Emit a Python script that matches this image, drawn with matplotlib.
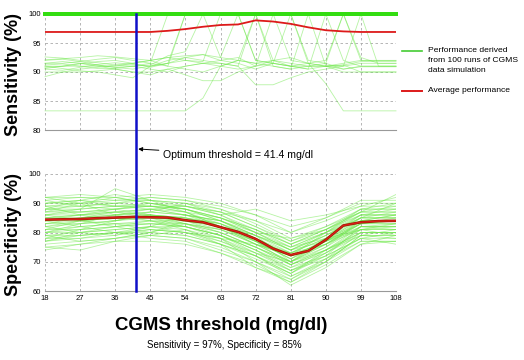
import matplotlib
matplotlib.use('Agg')
import matplotlib.pyplot as plt
from matplotlib.lines import Line2D
from matplotlib.transforms import blended_transform_factory

plt.rcParams['font.family'] = ['Liberation Sans', 'DejaVu Sans']

# thresholds (mg/dl)
x_fine = [18, 22.5, 27, 31.5, 36, 40.5, 45, 49.5, 54, 58.5, 63, 67.5,
          72, 76.5, 81, 85.5, 90, 94.5, 99, 103.5, 108]
x_coarse = [18, 27, 36, 45, 54, 63, 72, 81, 90, 99, 108]
x_ticks = [18, 27, 36, 45, 54, 63, 72, 81, 90, 99, 108]
optimum = 41.4

# sensitivity runs that stay at 100 the whole way
sens_full = [[100] * 21 for _ in range(6)]

# sensitivity runs (x_fine)
sens_runs = [
    [91.5, 91.5, 91.8, 92.2, 92.5, 92.0, 91.5, 100, 100, 100, 100, 100, 100, 100, 100, 100, 100, 100, 100, 100, 100],
    [90.8, 91.0, 91.5, 91.2, 90.8, 91.0, 91.5, 91.0, 100, 100, 100, 100, 100, 100, 100, 100, 100, 100, 100, 100, 100],
    [92.6, 92.4, 92.0, 91.6, 91.2, 91.5, 92.0, 92.5, 92.8, 93.0, 92.5, 100, 100, 100, 100, 100, 100, 100, 100, 100, 100],
    [91.0, 90.6, 90.2, 90.0, 89.5, 89.0, 91.0, 92.0, 92.5, 92.0, 91.5, 91.0, 100, 91.0, 90.5, 91.0, 91.0, 91.5, 92.0, 92.0, 92.0],
    [89.2, 90.0, 90.5, 90.8, 91.2, 91.0, 90.5, 90.0, 91.0, 91.5, 92.0, 92.5, 91.0, 100, 92.0, 91.5, 91.0, 90.5, 91.0, 91.0, 91.0],
    [90.6, 91.0, 91.4, 91.8, 92.0, 91.5, 90.8, 91.5, 92.5, 93.0, 92.0, 91.5, 90.5, 91.5, 100, 91.5, 91.0, 90.0, 90.0, 90.0, 90.0],
    [92.1, 92.3, 92.5, 92.8, 92.6, 92.3, 92.0, 91.0, 90.5, 90.0, 91.0, 92.0, 91.5, 91.0, 90.5, 100, 91.0, 91.2, 91.8, 91.8, 91.8],
    [91.5, 91.8, 91.5, 91.0, 90.5, 90.0, 90.0, 90.5, 89.5, 88.5, 88.5, 90.0, 91.0, 91.5, 91.0, 90.5, 100, 92.0, 91.0, 91.0, 91.0],
    [90.0, 90.0, 90.0, 90.2, 90.5, 90.0, 89.5, 90.5, 91.0, 91.5, 91.5, 91.0, 87.8, 87.8, 89.0, 90.0, 90.5, 91.0, 100, 91.0, 91.0],
    [83.3, 83.3, 83.3, 83.3, 83.3, 83.3, 83.3, 83.3, 83.3, 85.5, 91.0, 92.0, 91.5, 92.0, 91.0, 90.5, 91.0, 91.0, 91.5, 91.5, 91.5],
    [91.0, 91.0, 91.0, 91.0, 91.0, 91.5, 92.0, 92.5, 92.0, 91.5, 91.0, 90.5, 91.0, 92.0, 92.5, 91.5, 88.0, 83.3, 83.3, 83.3, 83.3],
    [90.5, 90.3, 90.8, 91.3, 91.6, 91.3, 91.0, 91.5, 92.0, 91.8, 100, 100, 92.0, 91.5, 91.0, 91.0, 91.0, 91.2, 90.0, 90.0, 90.0],
    [100, 100, 100, 100, 100, 100, 100, 100, 100, 100, 100, 100, 92.0, 91.5, 91.0, 91.5, 92.0, 100, 100, 100, 100],
    [100, 100, 100, 100, 100, 100, 100, 100, 100, 100, 100, 100, 100, 100, 100, 92.0, 91.5, 90.5, 90.9, 90.9, 90.9],
    [92.0, 92.2, 91.8, 91.2, 90.8, 90.5, 91.0, 91.5, 100, 100, 100, 100, 100, 100, 100, 100, 100, 100, 92.0, 92.0, 92.0],
    [91.2, 91.4, 91.0, 90.6, 90.6, 91.0, 91.2, 92.8, 93.5, 100, 92.5, 92.0, 100, 92.0, 91.5, 91.0, 91.5, 100, 92.5, 91.5, 91.5],
]

# specificity runs (x_coarse)
spec_runs = [
    [84, 85, 86, 87, 86, 83, 78, 72, 77, 83, 83],
    [88, 89, 90, 89, 87, 82, 76, 70, 76, 84, 84],
    [80, 81, 82, 83, 82, 79, 74, 68, 74, 80, 80],
    [90, 91, 90, 91, 90, 88, 84, 78, 82, 87, 87],
    [76, 77, 78, 80, 79, 76, 72, 66, 72, 78, 78],
    [86, 87, 88, 86, 84, 80, 75, 70, 78, 86, 86],
    [92, 92, 91, 92, 91, 89, 86, 82, 85, 90, 90],
    [78, 79, 80, 81, 80, 78, 73, 67, 73, 79, 79],
    [83, 84, 85, 85, 84, 81, 77, 73, 78, 83, 85],
    [85, 86, 87, 88, 87, 85, 80, 74, 79, 85, 85],
    [74, 76, 78, 79, 78, 75, 70, 64, 70, 77, 77],
    [89, 90, 92, 90, 88, 84, 79, 73, 79, 86, 88],
    [81, 82, 83, 84, 84, 82, 77, 71, 77, 82, 82],
    [87, 88, 89, 89, 88, 85, 81, 76, 81, 87, 89],
    [79, 80, 81, 82, 81, 77, 72, 65, 71, 80, 80],
    [91, 92, 92, 93, 92, 90, 86, 80, 84, 89, 92],
    [82, 83, 84, 85, 83, 80, 75, 69, 75, 82, 81],
    [85, 85, 86, 86, 85, 83, 79, 75, 80, 84, 84],
    [77, 78, 79, 81, 80, 77, 73, 68, 72, 78, 76],
    [88, 88, 89, 90, 88, 85, 80, 74, 80, 86, 86],
    [84, 86, 88, 89, 87, 83, 77, 71, 76, 83, 84],
    [80, 80, 81, 82, 80, 76, 71, 66, 73, 81, 82],
    [86, 88, 95, 91, 90, 87, 82, 77, 82, 88, 88],
    [75, 76, 77, 77, 76, 73, 69, 63, 69, 76, 77],
    [90, 90, 91, 91, 89, 86, 81, 76, 80, 85, 90],
    [83, 83, 84, 86, 85, 82, 78, 72, 77, 84, 84],
    [87, 87, 87, 88, 86, 82, 77, 71, 78, 85, 87],
    [78, 78, 80, 82, 82, 79, 74, 69, 74, 80, 80],
    [82, 84, 85, 84, 83, 81, 76, 72, 76, 81, 83],
    [89, 89, 90, 92, 91, 88, 83, 77, 81, 86, 86],
    [80, 82, 83, 83, 82, 79, 75, 70, 74, 79, 78],
    [86, 86, 86, 87, 86, 84, 79, 74, 79, 85, 85],
    [92, 93, 92, 90, 88, 85, 81, 75, 80, 87, 93],
    [77, 79, 80, 80, 79, 76, 72, 67, 71, 77, 77],
    [84, 84, 85, 86, 85, 82, 76, 70, 76, 83, 83],
    [88, 87, 88, 89, 89, 87, 82, 76, 81, 87, 87],
    [81, 81, 82, 83, 83, 80, 75, 69, 74, 81, 81],
    [85, 86, 87, 86, 85, 83, 78, 73, 78, 84, 86],
    [79, 79, 80, 79, 78, 74, 70, 65, 70, 79, 79],
    [90, 91, 89, 89, 88, 84, 78, 72, 77, 83, 84],
    [75, 74, 77, 79, 81, 78, 70, 62, 68, 76, 79],
    [91, 89, 88, 90, 89, 86, 88, 84, 86, 89, 89],
    [82, 80, 79, 82, 86, 84, 79, 70, 75, 84, 86],
    [87, 90, 86, 84, 82, 78, 72, 66, 74, 82, 82],
    [78, 81, 84, 86, 83, 79, 73, 70, 77, 85, 85],
    [84, 82, 80, 78, 77, 73, 68, 64, 71, 78, 80],
    [89, 86, 84, 87, 90, 86, 80, 78, 81, 88, 88],
    [80, 83, 86, 88, 86, 84, 80, 75, 78, 81, 79],
    [86, 84, 83, 81, 80, 78, 76, 72, 80, 88, 90],
    [77, 80, 82, 84, 81, 76, 68, 63, 70, 79, 81],
    [92, 90, 89, 88, 89, 87, 84, 80, 85, 91, 91],
    [83, 85, 87, 85, 82, 79, 74, 67, 72, 82, 83],
    [79, 77, 78, 80, 83, 81, 76, 73, 76, 82, 82],
    [88, 91, 93, 91, 87, 82, 77, 69, 73, 80, 80],
    [81, 84, 82, 80, 84, 82, 79, 74, 77, 81, 81],
]

# average performance (x_fine)
sens_avg = [96.9, 96.9, 96.9, 96.9, 96.9, 96.9, 96.9, 97.1, 97.4, 97.8, 98.1, 98.2,
            98.9, 98.7, 98.3, 97.7, 97.2, 97.0, 96.9, 96.9, 96.9]
spec_avg = [84.4, 84.5, 84.6, 84.9, 85.1, 85.3, 85.2, 85.1, 84.2, 83.5, 81.8, 80.2,
            77.8, 74.5, 72.3, 73.7, 77.5, 82.4, 83.5, 83.9, 84.0]

green = '#6ee84a'
red = '#dd1a1a'
blue = '#1010c8'

fig = plt.figure(figsize=(5.24, 3.6), dpi=100)
ax1 = fig.add_axes([45 / 524, 1 - 130 / 360, 351 / 524, 116 / 360])
ax2 = fig.add_axes([45 / 524, 1 - 291 / 360, 351 / 524, 117 / 360])

for run in sens_runs:
    ax1.plot(x_fine, run, color=green, lw=0.6, alpha=0.5, clip_on=False)
for run in sens_full:
    ax1.plot(x_fine, run, color='#33dd11', lw=2.6, clip_on=False)
ax1.plot(x_fine, sens_avg, color=red, lw=1.3, zorder=5)

for run in spec_runs:
    ax2.plot(x_coarse, run, color=green, lw=0.6, alpha=0.5)
ax2.plot(x_fine, spec_avg, color='#992200', lw=1.9, zorder=5)
ax2.plot(x_fine, spec_avg, color=red, lw=0.9, zorder=6)

for ax, lo, hi, step in [(ax1, 80, 100, 5), (ax2, 60, 100, 10)]:
    ax.set_xlim(18, 108)
    ax.set_ylim(lo, hi)
    ax.set_xticks(x_ticks)
    ax.set_yticks(range(lo, hi + 1, step))
    ax.grid(True, color='#aaaaaa', ls=(0, (3, 3)), lw=0.6)
    ax.set_axisbelow(True)
    for side in ['top', 'right', 'left']:
        ax.spines[side].set_visible(False)
    ax.spines['bottom'].set_color('#999999')
    ax.spines['bottom'].set_linewidth(0.8)
    ax.tick_params(length=0, labelsize=5.5, pad=3)

ax1.tick_params(labelbottom=False)

# optimum threshold line across both panels
tr = blended_transform_factory(ax2.transData, fig.transFigure)
fig.add_artist(Line2D([optimum, optimum], [1 - 14 / 360, 1 - 291 / 360],
                      transform=tr, color=blue, lw=1.8, zorder=10))
fig.add_artist(plt.Annotation('Optimum threshold = 41.4 mg/dl',
                              xy=(optimum + 0.5, 1 - 149 / 360), xycoords=tr,
                              xytext=(163 / 524, 1 - 155 / 360), textcoords='figure fraction',
                              fontsize=7.6, va='center', ha='left',
                              arrowprops=dict(arrowstyle='-|>', color='black', lw=0.7,
                                              mutation_scale=6, shrinkA=1, shrinkB=0)))

fig.text(14 / 524, 1 - 74 / 360, 'Sensitivity (%)', rotation=90, fontsize=13,
         fontweight='bold', ha='center', va='center')
fig.text(14 / 524, 1 - 235 / 360, 'Specificity (%)', rotation=90, fontsize=13,
         fontweight='bold', ha='center', va='center')
fig.text(221 / 524, 1 - 325 / 360, 'CGMS threshold (mg/dl)', fontsize=13.4,
         fontweight='bold', ha='center', va='center')
fig.text(224 / 524, 1 - 345 / 360, 'Sensitivity = 97%, Specificity = 85%', fontsize=7,
         ha='center', va='center')

# legend
fig.add_artist(Line2D([402 / 524, 422 / 524], [1 - 51 / 360] * 2, color='#44cc33', lw=1.2))
fig.text(428 / 524, 1 - 51 / 360, 'Performance derived', fontsize=6.1, va='center', ha='left')
fig.text(428 / 524, 1 - 61 / 360, 'from 100 runs of CGMS', fontsize=6.1, va='center', ha='left')
fig.text(428 / 524, 1 - 71 / 360, 'data simulation', fontsize=6.1, va='center', ha='left')
fig.add_artist(Line2D([402 / 524, 422 / 524], [1 - 91 / 360] * 2, color=red, lw=1.4))
fig.text(428 / 524, 1 - 91 / 360, 'Average performance', fontsize=6.1, va='center', ha='left')

fig.savefig('out.png', dpi=100)
